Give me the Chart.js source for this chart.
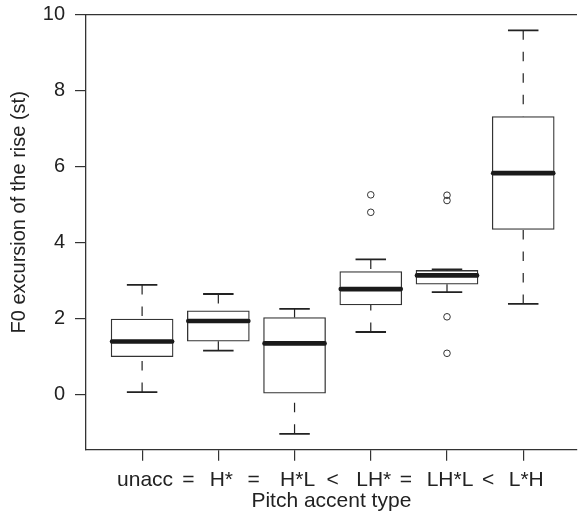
<!DOCTYPE html>
<html>
<head>
<meta charset="utf-8">
<script src="https://cdn.jsdelivr.net/npm/chart.js@4.4.1/dist/chart.umd.min.js"></script>
<style>
  html, body { margin: 0; padding: 0; background: #fff; overflow: hidden; }
</style>
</head>
<body>
<canvas id="boxChart" width="582" height="521"></canvas>
<script>
// values
const categories = ["unacc", "H*", "H*L", "LH*", "LH*L", "L*H"];
const relations = ["=", "=", "<", "=", "<"];
const whiskerLow = [0.07, 1.16, -1.03, 1.65, 2.70, 2.39];
const q1 = [1.00, 1.41, 0.04, 2.36, 2.91, 4.35];
const medians = [1.40, 1.94, 1.35, 2.78, 3.14, 5.83];
const q3 = [1.99, 2.21, 2.03, 3.24, 3.27, 7.32];
const whiskerHigh = [2.89, 2.65, 2.26, 3.56, 3.30, 9.59];
const outliers = [[], [], [], [5.26, 4.80], [5.25, 5.11, 2.05, 1.09], []];
const yTicks = [0, 2, 4, 6, 8, 10];

const FONT = "'Liberation Sans', Arial, Helvetica, sans-serif";
const INK = "#222";
const LINE = "#333";
const BOX_WIDTH = 0.8; // in x units, like R's boxwex

// whiskers, staples, medians, top frame line, relation signs, y title
const boxExtras = {
  id: "boxExtras",
  afterDatasetsDraw(chart) {
    const { ctx } = chart;
    const xs = chart.scales.x, ys = chart.scales.y;
    const halfBox = xs.getPixelForValue(1 + BOX_WIDTH / 2) - xs.getPixelForValue(1);
    const halfCap = halfBox / 2;
    ctx.save();
    categories.forEach((c, i) => {
      const cx = xs.getPixelForValue(i + 1);
      // dashed whiskers, drawn from whisker end toward box
      ctx.strokeStyle = INK;
      ctx.lineWidth = 1.2;
      ctx.setLineDash([9.5, 12]);
      ctx.beginPath();
      ctx.moveTo(cx, ys.getPixelForValue(whiskerHigh[i]));
      ctx.lineTo(cx, ys.getPixelForValue(q3[i]));
      ctx.moveTo(cx, ys.getPixelForValue(whiskerLow[i]));
      ctx.lineTo(cx, ys.getPixelForValue(q1[i]));
      ctx.stroke();
      ctx.setLineDash([]);
      // staples
      ctx.lineWidth = 1.8;
      ctx.beginPath();
      [whiskerHigh[i], whiskerLow[i]].forEach(v => {
        const py = ys.getPixelForValue(v);
        ctx.moveTo(cx - halfCap, py);
        ctx.lineTo(cx + halfCap, py);
      });
      ctx.stroke();
      // median
      ctx.lineWidth = 4.7;
      ctx.lineCap = "round";
      ctx.strokeStyle = "#1a1a1a";
      ctx.beginPath();
      const my = ys.getPixelForValue(medians[i]);
      ctx.moveTo(cx - halfBox + 0.5, my);
      ctx.lineTo(cx + halfBox - 0.5, my);
      ctx.stroke();
      ctx.lineCap = "butt";
    });
    ctx.restore();
  },
  afterDraw(chart) {
    const { ctx, chartArea } = chart;
    const xs = chart.scales.x;
    ctx.save();
    // top frame line (right side falls outside the picture)
    ctx.strokeStyle = LINE;
    ctx.lineWidth = 1.3;
    ctx.beginPath();
    ctx.moveTo(chartArea.left, chartArea.top);
    ctx.lineTo(chartArea.right, chartArea.top);
    ctx.stroke();

    // relation signs, centred in the gap between neighbouring labels
    const tf = xs.options.ticks.font;
    const midY = xs.top + xs.options.grid.tickLength + xs.options.ticks.padding + tf.size * 1.2 / 2;
    ctx.fillStyle = INK;
    ctx.font = tf.size + "px " + FONT;
    ctx.textAlign = "center";
    ctx.textBaseline = "middle";
    const widths = categories.map(c => ctx.measureText(c).width);
    relations.forEach((r, i) => {
      const rightEdge = xs.getPixelForValue(i + 1) + widths[i] / 2;
      const leftEdge = xs.getPixelForValue(i + 2) - widths[i + 1] / 2;
      ctx.fillText(r, (rightEdge + leftEdge) / 2, midY);
    });

    // y axis title
    ctx.translate(25, (chartArea.top + chartArea.bottom) / 2 - 20);
    ctx.rotate(-Math.PI / 2);
    ctx.font = "20px " + FONT;
    ctx.textBaseline = "alphabetic";
    ctx.fillText("F0 excursion of the rise (st)", 0, 0);
    ctx.restore();
  }
};

const ctx = document.getElementById("boxChart").getContext("2d");
new Chart(ctx, {
  type: "bar",
  data: {
    datasets: [{
      type: "bar",
      data: categories.map((c, i) => ({ x: i + 1, y: [q1[i], q3[i]] })),
      backgroundColor: "#fff",
      borderColor: LINE,
      borderWidth: 1.3,
      borderSkipped: false,
      barThickness: 62,
      order: 2
    }, {
      type: "scatter",
      data: outliers.flatMap((vals, i) => vals.map(v => ({ x: i + 1, y: v }))),
      pointStyle: "circle",
      pointRadius: 3.3,
      pointBorderWidth: 1,
      pointBorderColor: LINE,
      pointBackgroundColor: "rgba(0,0,0,0)",
      showLine: false,
      order: 1
    }]
  },
  options: {
    responsive: false,
    animation: false,
    events: [],
    layout: { padding: { top: 14.7, left: 0, right: 0, bottom: 0 } },
    plugins: {
      legend: { display: false },
      tooltip: { enabled: false },
      title: { display: false }
    },
    scales: {
      x: {
        type: "linear",
        min: 0.26,
        max: 6.7055,
        offset: false,
        afterBuildTicks: s => { s.ticks = categories.map((c, i) => ({ value: i + 1 })); },
        afterFit: s => { s.height = 71; s.paddingLeft = 0; s.paddingRight = 0; },
        border: { display: true, color: LINE, width: 1.3 },
        grid: { display: true, offset: false, drawOnChartArea: false, drawTicks: true, tickLength: 10.7, color: LINE, lineWidth: 1.2 },
        ticks: {
          callback: v => categories[v - 1] ?? "",
          font: { family: FONT, size: 21 },
          color: INK,
          padding: 7,
          labelOffset: 3,
          maxRotation: 0,
          autoSkip: false
        },
        title: {
          display: true,
          text: "Pitch accent type",
          font: { family: FONT, size: 21 },
          color: INK,
          padding: { top: 0, bottom: 7 }
        }
      },
      y: {
        min: -1.455,
        max: 10,
        afterBuildTicks: s => { s.ticks = yTicks.map(v => ({ value: v })); },
        afterFit: s => { s.width = 85.7; s.paddingTop = 0; s.paddingBottom = 0; },
        border: { display: true, color: LINE, width: 1.3 },
        grid: { display: true, drawOnChartArea: false, drawTicks: true, tickLength: 10.7, color: LINE, lineWidth: 1.2 },
        ticks: {
          font: { family: FONT, size: 20 },
          color: INK,
          padding: 10
        }
      }
    }
  },
  plugins: [boxExtras]
});
</script>
</body>
</html>
